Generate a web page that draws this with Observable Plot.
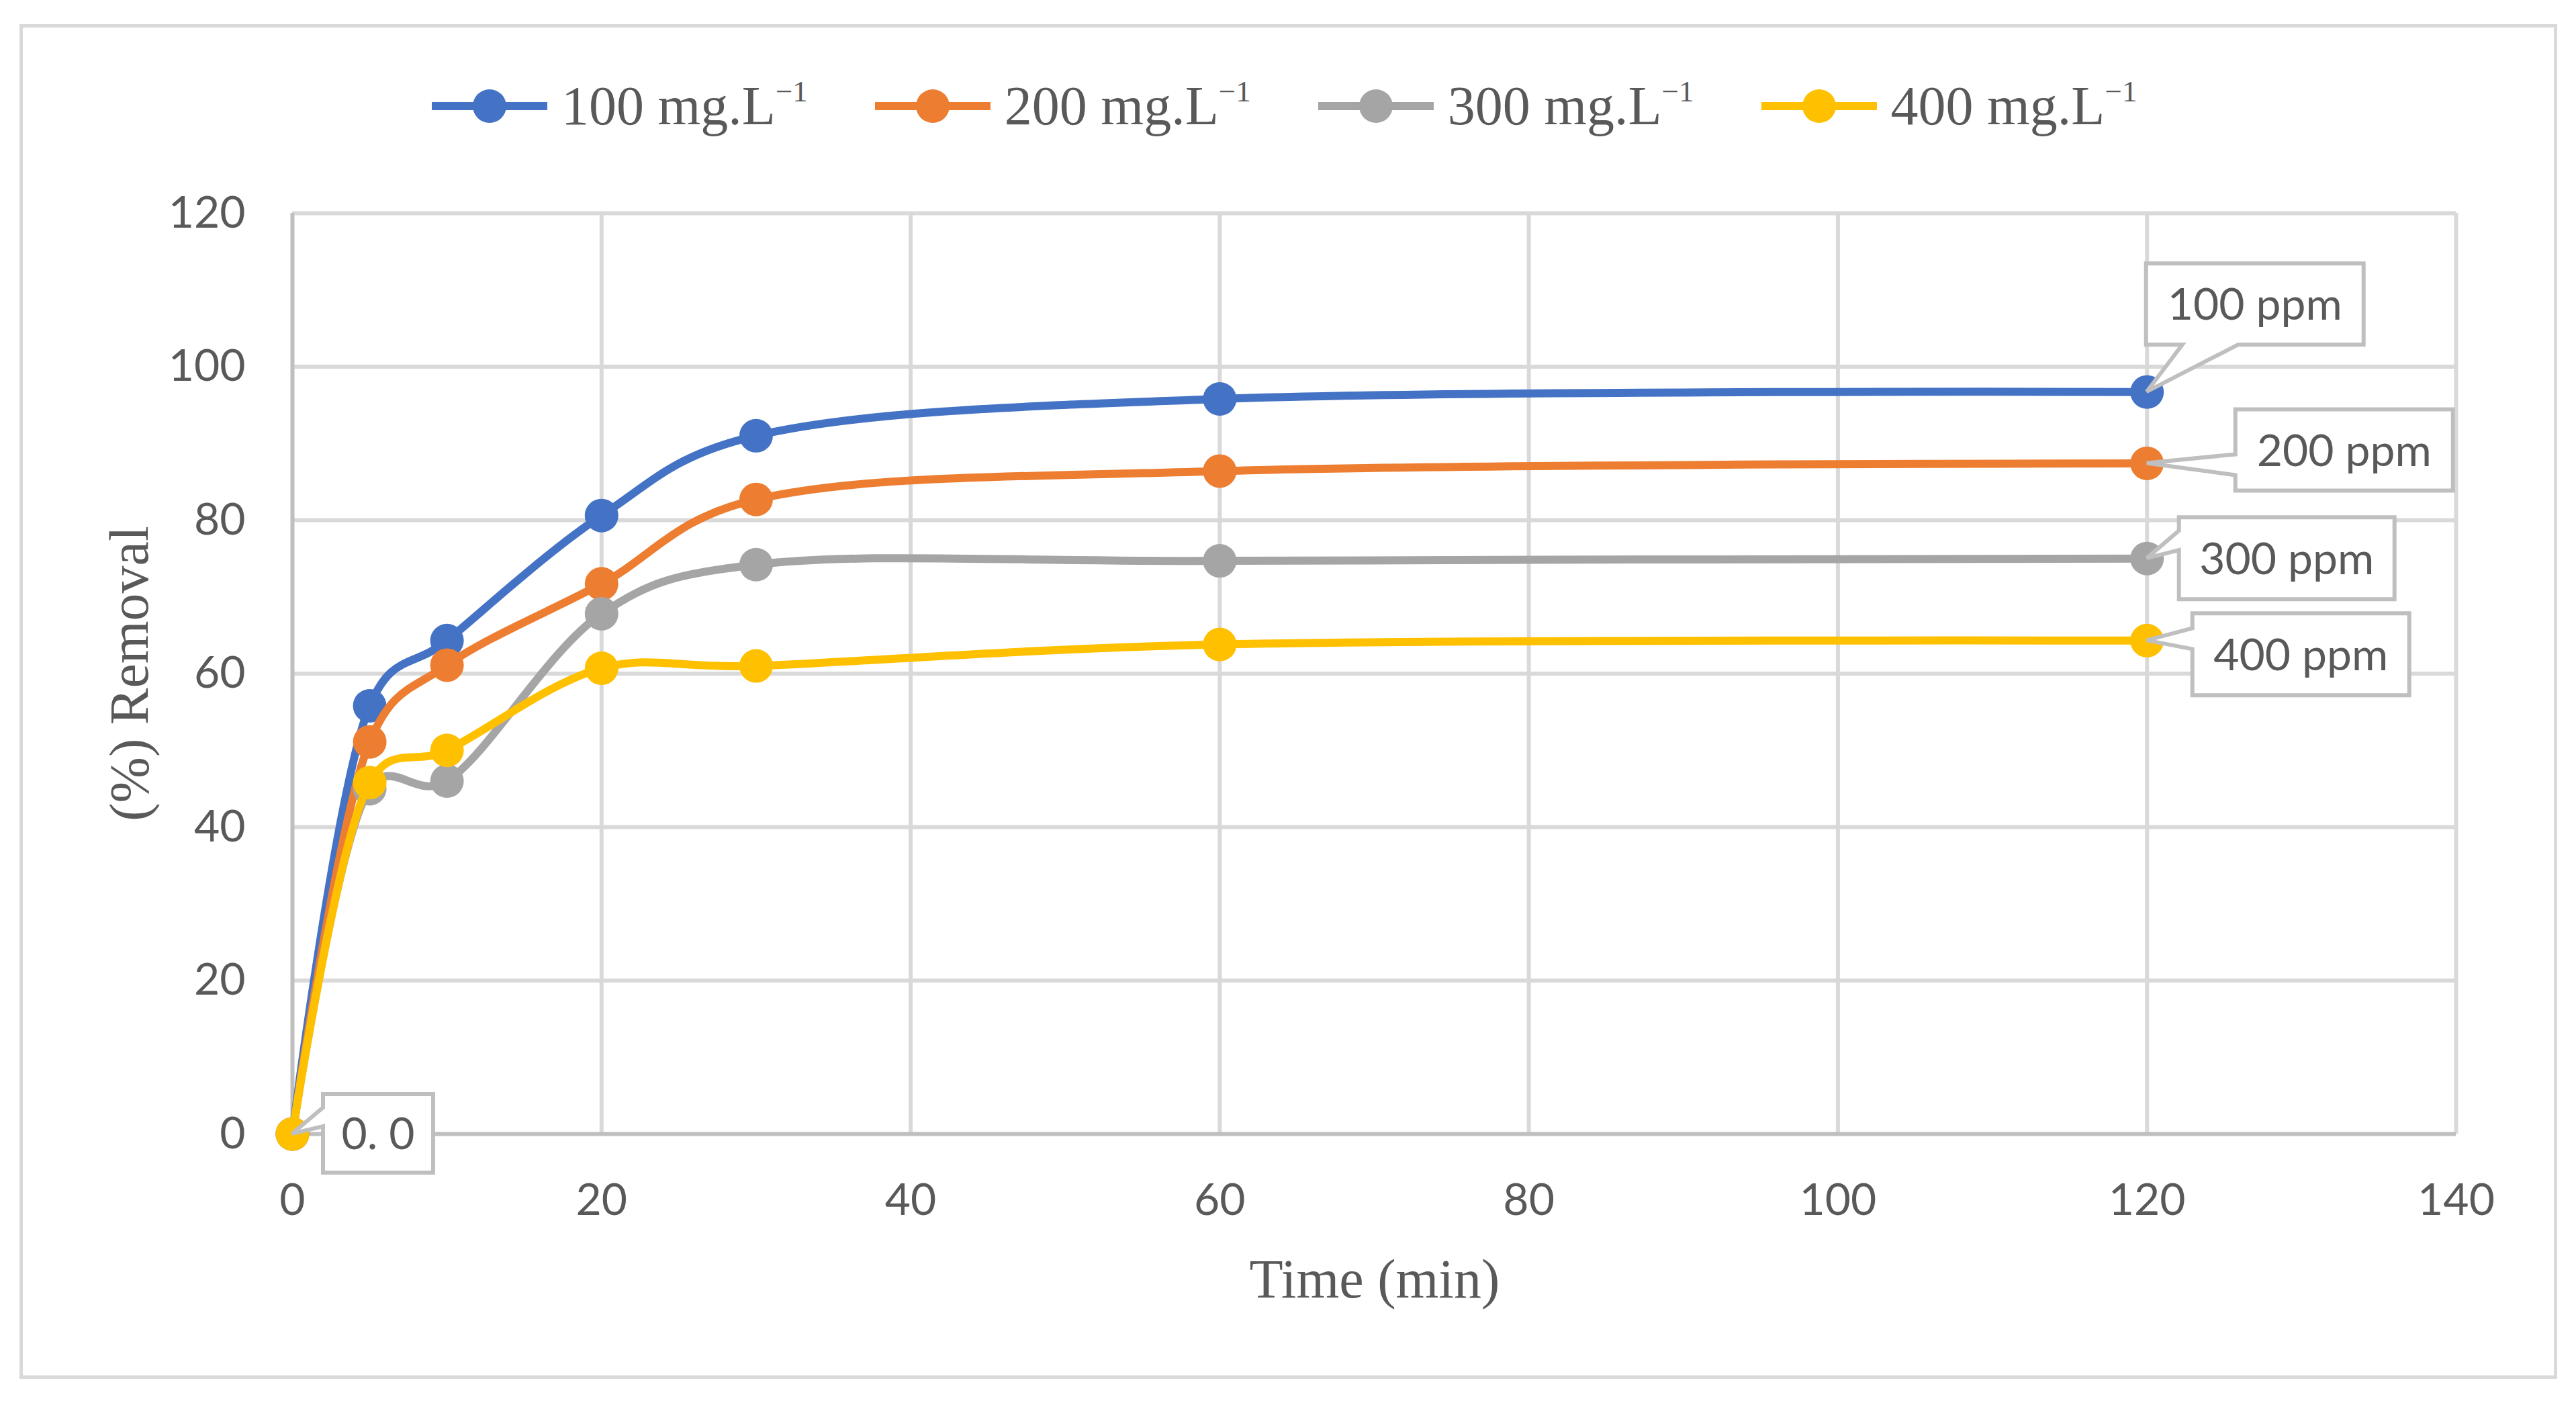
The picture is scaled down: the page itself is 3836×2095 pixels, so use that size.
<!DOCTYPE html>
<html>
<head>
<meta charset="utf-8">
<script src="https://cdn.jsdelivr.net/npm/d3@7"></script>
<script src="https://cdn.jsdelivr.net/npm/@observablehq/plot@0.6"></script>
<style>
  html, body { margin: 0; padding: 0; background: white; }
  body { width: 3836px; height: 2095px; position: relative; overflow: hidden; }
  #frame {
    position: absolute; left: 29px; top: 36px;
    width: 3769px; height: 2007px;
    border: 5px solid #d9d9d9;
  }
  #legend {
    position: absolute; left: 643px; top: 118px; height: 80px;
    display: flex; align-items: center;
    font-family: "Liberation Serif", "Times New Roman", serif;
    font-size: 82px; color: #595959;
  }
  .item { display: flex; align-items: center; margin-right: 100px; }
  .item svg { margin-right: 21px; }
  .sup { font-size: 0.55em; position: relative; top: -0.75em; }
  .title {
    position: absolute;
    font-family: "Liberation Serif", "Times New Roman", serif;
    font-size: 82px; color: #595959; white-space: nowrap;
  }
  #chart { position: absolute; left: 0; top: 240px; }
</style>
</head>
<body>
<div id="frame"></div>
<div id="legend"></div>
<div id="chart"></div>
<div class="title" id="xtitle">Time (min)</div>
<div class="title" id="ytitle">(%) Removal</div>
<script>
// contact time (min)
var time = [0, 5, 10, 20, 30, 60, 120];

// removal (%) for each initial concentration
var removal100 = [0, 55.8, 64.3, 80.6, 91.0, 95.8, 96.7];
var removal200 = [0, 51.1, 61.1, 71.7, 82.7, 86.4, 87.4];
var removal300 = [0, 45.0, 46.0, 67.8, 74.2, 74.7, 75.0];
var removal400 = [0, 45.8, 50.0, 60.7, 61.0, 63.8, 64.3];

var concentrations = [100, 200, 300, 400];
var seriesColors = ["#4472C4", "#ED7D31", "#A5A5A5", "#FFC000"];
var endLabels = ["100 ppm", "200 ppm", "300 ppm", "400 ppm"];
var originLabel = "0. 0";

var xTicks = [0, 20, 40, 60, 80, 100, 120, 140];
var yTicks = [0, 20, 40, 60, 80, 100, 120];

var allRemoval = [removal100, removal200, removal300, removal400];

// long table for the line/dot marks
var rows = [];
concentrations.forEach(function(c, i) {
  time.forEach(function(t, j) {
    rows.push({conc: c, t: t, r: allRemoval[i][j]});
  });
});

// callout boxes: last point of each series plus the origin
var callouts = concentrations.map(function(c, i) {
  return {t: time[time.length - 1], r: allRemoval[i][time.length - 1], text: endLabels[i]};
});
callouts.push({t: time[0], r: removal400[0], text: originLabel});

// box placement relative to its point (px): offset, size, side the pointer leaves from
var calloutLayout = [
  {dx: -1, dy: -191, w: 324, h: 121, side: "bottom", a: 54, b: 137},
  {dx: 132, dy: -80, w: 324, h: 121, side: "left", a: 67, b: 98},
  {dx: 48, dy: -61, w: 321, h: 122, side: "left", a: 20, b: 49},
  {dx: 68, dy: -40, w: 323, h: 122, side: "left", a: 22, b: 53},
  {dx: 46, dy: -59, w: 164, h: 117, side: "left", a: 20, b: 48}
];

function calloutMark(index, scales) {
  var g = d3.create("svg:g");
  callouts.forEach(function(c, i) {
    var lay = calloutLayout[i];
    var px = scales.x(c.t), py = scales.y(c.r);
    var L = px + lay.dx, T = py + lay.dy, R = L + lay.w, B = T + lay.h;
    var d;
    if (lay.side === "bottom") {
      d = "M" + L + "," + T + "H" + R + "V" + B + "H" + (L + lay.b) +
          "L" + px + "," + py + "L" + (L + lay.a) + "," + B + "H" + L + "Z";
    } else {
      d = "M" + L + "," + T + "H" + R + "V" + B + "H" + L + "V" + (T + lay.b) +
          "L" + px + "," + py + "L" + L + "," + (T + lay.a) + "Z";
    }
    g.append("path")
      .attr("d", d)
      .attr("fill", "white")
      .attr("stroke", "#bfbfbf")
      .attr("stroke-width", 6)
      .attr("stroke-linejoin", "miter");
    g.append("text")
      .attr("x", (L + R) / 2)
      .attr("y", (T + B) / 2)
      .attr("dy", "0.36em")
      .attr("text-anchor", "middle")
      .attr("fill", "#595959")
      .attr("font-family", "Lato, 'Open Sans', sans-serif")
      .attr("font-size", 66)
      .text(c.text);
  });
  return g.node();
}

var marks = [
  Plot.ruleY(yTicks.slice(1), {stroke: "#d9d9d9", strokeWidth: 6}),
  Plot.ruleX(xTicks.slice(1), {stroke: "#d9d9d9", strokeWidth: 6}),
  // axis lines
  Plot.ruleX([0], {stroke: "#bfbfbf", strokeWidth: 6}),
  Plot.ruleY([0], {stroke: "#bfbfbf", strokeWidth: 6})
];

// smoothing close to Excel's "smoothed line"
var smooth = d3.curveCatmullRom.alpha(0.25);

concentrations.forEach(function(c, i) {
  var data = rows.filter(function(d) { return d.conc === c; });
  marks.push(Plot.line(data, {x: "t", y: "r", stroke: seriesColors[i], strokeWidth: 12, curve: smooth}));
  marks.push(Plot.dot(data, {x: "t", y: "r", r: 25, fill: seriesColors[i]}));
});

marks.push(calloutMark);

var plot = Plot.plot({
  width: 3836,
  height: 1760,
  marginLeft: 435,
  marginRight: 179,
  marginTop: 77,
  marginBottom: 312,
  style: {
    background: "transparent",
    fontFamily: "Lato, 'Open Sans', sans-serif",
    fontSize: "66px",
    color: "#595959",
    maxWidth: "none"
  },
  x: {domain: [0, 140], ticks: 7, tickSize: 0, tickPadding: 74, label: null},
  y: {domain: [0, 120], ticks: 6, tickSize: 0, tickPadding: 70, label: null},
  marks: marks
});
document.getElementById("chart").appendChild(plot);

// legend
var legend = d3.select("#legend");
concentrations.forEach(function(c, i) {
  var item = legend.append("div").attr("class", "item");
  var sw = item.append("svg").attr("width", 172).attr("height", 60);
  sw.append("line").attr("x1", 0).attr("x2", 172).attr("y1", 30).attr("y2", 30)
    .attr("stroke", seriesColors[i]).attr("stroke-width", 12);
  sw.append("circle").attr("cx", 86).attr("cy", 30).attr("r", 25).attr("fill", seriesColors[i]);
  var label = item.append("span");
  label.append("span").text(c + " mg.L");
  label.append("span").attr("class", "sup").text("\u22121");
});

// axis titles
var xt = document.getElementById("xtitle");
xt.style.left = (2047 - xt.offsetWidth / 2) + "px";
xt.style.top = (1905 - xt.offsetHeight / 2) + "px";
var yt = document.getElementById("ytitle");
yt.style.left = (192 - yt.offsetWidth / 2) + "px";
yt.style.top = (1003 - yt.offsetHeight / 2) + "px";
yt.style.transform = "rotate(-90deg)";
</script>
</body>
</html>
